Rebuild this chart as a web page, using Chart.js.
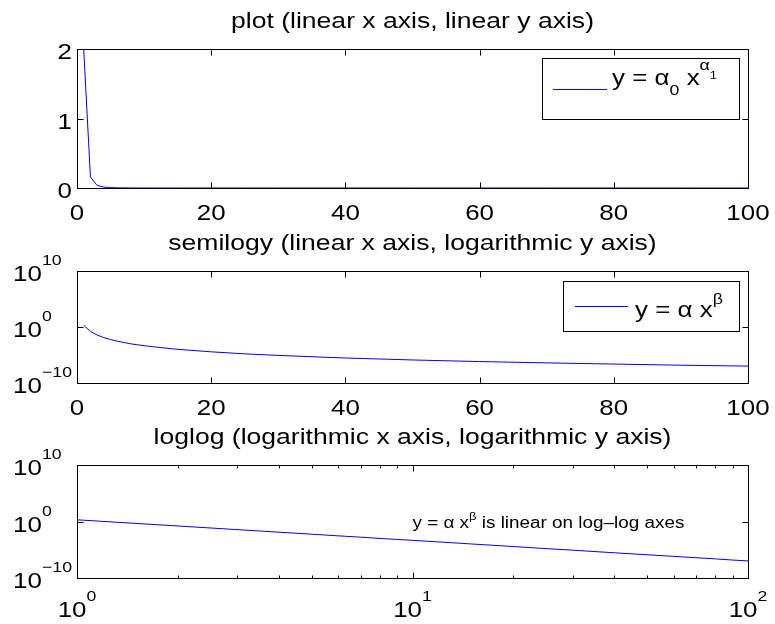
<!DOCTYPE html>
<html>
<head>
<meta charset="utf-8">
<title>plot / semilogy / loglog</title>
<script src="https://cdn.jsdelivr.net/npm/chart.js@4.4.1/dist/chart.umd.min.js"></script>
<style>
  body { margin: 0; background: #fff; }
  #wrap { position: relative; width: 775px; height: 624px; }
  #wrap canvas { position: absolute; left: 0; top: 0; }
</style>
</head>
<body>
<div id="wrap">
  <canvas id="plotLin" width="775" height="624"></canvas>
  <canvas id="plotSemi" width="775" height="624"></canvas>
  <canvas id="plotLog" width="775" height="624"></canvas>
</div>
<script>
// y = alpha * x^beta
const xValues = [1, 2, 3, 4, 5, 6, 7, 8, 9, 10, 12, 15, 20, 25, 30, 40, 50, 60, 70, 80, 90, 100];
const yValues = [2, 0.16, 0.0366, 0.0129, 0.0057, 0.0029, 0.0017, 0.001, 0.00067, 0.00046, 0.00024,
                 0.000105, 3.7e-5, 1.6e-5, 8.4e-6, 2.9e-6, 1.3e-6, 6.7e-7, 3.9e-7, 2.4e-7, 1.5e-7, 1.05e-7];

const linearXTicks = [0, 20, 40, 60, 80, 100];
const linearYTicks = [0, 1, 2];
const logYTicks = [1e-10, 1, 1e10];
const logXTicks = [1, 10, 100];
const logXMinorTicks = [2, 3, 4, 5, 6, 7, 8, 9, 20, 30, 40, 50, 60, 70, 80, 90];

const titles = [
  'plot (linear x axis, linear y axis)',
  'semilogy (linear x axis, logarithmic y axis)',
  'loglog (logarithmic x axis, logarithmic y axis)'
];

const FONT = '"Liberation Sans", Arial, Helvetica, sans-serif';
const SX = 1.18;          // la figura original esta estirada en horizontal
const BIG = 22, SMALL = 15, TITLE = 22.5;

function seg(t, size, dy) { return { t: t, size: size || BIG, dy: dy || 0 }; }

function richWidth(ctx, segs) {
  let w = 0;
  segs.forEach(s => { ctx.font = s.size + 'px ' + FONT; w += ctx.measureText(s.t).width * SX; });
  return w;
}

function drawRich(ctx, segs, x, y) {
  ctx.textAlign = 'left';
  ctx.textBaseline = 'alphabetic';
  segs.forEach(s => {
    ctx.font = s.size + 'px ' + FONT;
    const w = ctx.measureText(s.t).width * SX;
    ctx.save();
    ctx.translate(x, y + s.dy);
    ctx.scale(SX, 1);
    ctx.fillText(s.t, 0, 0);
    ctx.restore();
    x += w;
  });
}

function expLabel(v) {
  const e = Math.round(Math.log10(v));
  return [seg('10'), seg(String(e).replace('-', '\u2212'), SMALL, -16)];
}

function axesPlugin(spec) {
  return {
    id: 'matlabAxes',
    afterDraw(chart) {
      const ctx = chart.ctx, a = chart.chartArea;
      const xs = chart.scales.x, ys = chart.scales.y;
      const L = Math.round(a.left) + 0.5, R = Math.round(a.right) + 0.5;
      const T = Math.round(a.top) + 0.5, B = Math.round(a.bottom) + 0.5;
      ctx.save();
      ctx.strokeStyle = '#000';
      ctx.fillStyle = '#000';
      ctx.lineWidth = 1;

      // ticks hacia dentro, en los cuatro lados
      ctx.beginPath();
      const xTick = (v, len) => {
        const p = Math.round(xs.getPixelForValue(v)) + 0.5;
        ctx.moveTo(p, B); ctx.lineTo(p, B - len);
        ctx.moveTo(p, T); ctx.lineTo(p, T + len);
      };
      const yTick = (v, len) => {
        const p = Math.round(ys.getPixelForValue(v)) + 0.5;
        ctx.moveTo(L, p); ctx.lineTo(L + len, p);
        ctx.moveTo(R, p); ctx.lineTo(R - len, p);
      };
      spec.xTicks.forEach(v => xTick(v, 6));
      (spec.xMinor || []).forEach(v => xTick(v, 3));
      spec.yTicks.forEach(v => yTick(v, 6));
      ctx.stroke();
      ctx.strokeRect(L, T, R - L, B - T);

      // titulo
      const tSegs = [seg(spec.title, TITLE)];
      drawRich(ctx, tSegs, (a.left + a.right) / 2 - richWidth(ctx, tSegs) / 2, a.top - 21);

      // etiquetas del eje x
      spec.xTicks.forEach(v => {
        const p = xs.getPixelForValue(v);
        if (spec.xLog) {
          const s = expLabel(v);
          drawRich(ctx, s, p - richWidth(ctx, s) / 2, a.bottom + 39);
        } else {
          const s = [seg(String(v))];
          drawRich(ctx, s, p - richWidth(ctx, s) / 2, a.bottom + 32);
        }
      });

      // etiquetas del eje y
      spec.yTicks.forEach(v => {
        const p = ys.getPixelForValue(v);
        if (spec.yLog) {
          const s = expLabel(v);
          drawRich(ctx, s, a.left - 35 - richWidth(ctx, [s[0]]), p + 10);
        } else {
          const s = [seg(String(v))];
          drawRich(ctx, s, a.left - 5 - richWidth(ctx, s), p + 10);
        }
      });

      // leyenda
      if (spec.legend) {
        const lg = spec.legend;
        ctx.fillStyle = '#fff';
        ctx.fillRect(lg.box[0], lg.box[1], lg.box[2] - lg.box[0], lg.box[3] - lg.box[1]);
        ctx.strokeStyle = '#000';
        ctx.strokeRect(lg.box[0] + 0.5, lg.box[1] + 0.5, lg.box[2] - lg.box[0], lg.box[3] - lg.box[1]);
        ctx.beginPath();
        ctx.strokeStyle = '#0000ff';
        ctx.moveTo(lg.line[0], lg.line[2] + 0.5);
        ctx.lineTo(lg.line[1], lg.line[2] + 0.5);
        ctx.stroke();
        ctx.fillStyle = '#000';
        drawRich(ctx, lg.text, lg.textX, lg.baseline);
      }

      // texto dentro del loglog
      if (spec.note) {
        const n = spec.note;
        drawRich(ctx, n.text, xs.getPixelForValue(n.x), ys.getPixelForValue(n.y) + 6);
      }
      ctx.restore();
    }
  };
}

function makeChart(id, padding, xScale, yScale, spec) {
  const points = xValues.map((x, i) => ({ x: x, y: yValues[i] }));
  return new Chart(document.getElementById(id), {
    type: 'line',
    data: {
      datasets: [{
        data: points,
        borderColor: '#0000ff',
        borderWidth: 1,
        pointRadius: 0,
        tension: 0,
        fill: false
      }]
    },
    options: {
      responsive: false,
      animation: false,
      events: [],
      layout: { padding: padding },
      plugins: { legend: { display: false }, title: { display: false }, tooltip: { enabled: false } },
      scales: {
        x: Object.assign({ display: false }, xScale),
        y: Object.assign({ display: false }, yScale)
      }
    },
    plugins: [axesPlugin(spec)]
  });
}

// plot
makeChart('plotLin', { left: 77, top: 49, right: 27, bottom: 436 },
  { type: 'linear', min: 0, max: 100 },
  { type: 'linear', min: 0, max: 2 },
  {
    title: titles[0], xTicks: linearXTicks, yTicks: linearYTicks,
    legend: {
      box: [542, 58, 739, 119], line: [553, 607, 89], textX: 612, baseline: 85,
      text: [seg('y = \u03b1'), seg('0', SMALL, 10), seg(' x'), seg('\u03b1', SMALL, -15), seg('1', 11, -6)]
    }
  });

// semilogy
makeChart('plotSemi', { left: 77, top: 271, right: 27, bottom: 241 },
  { type: 'linear', min: 0, max: 100 },
  { type: 'logarithmic', min: 1e-10, max: 1e10 },
  {
    title: titles[1], xTicks: linearXTicks, yTicks: logYTicks, yLog: true,
    legend: {
      box: [563, 281, 739, 331], line: [575, 628, 306], textX: 635, baseline: 317,
      text: [seg('y = \u03b1 x'), seg('\u03b2', SMALL, -13)]
    }
  });

// loglog
makeChart('plotLog', { left: 77, top: 465, right: 27, bottom: 46 },
  { type: 'logarithmic', min: 1, max: 100 },
  { type: 'logarithmic', min: 1e-10, max: 1e10 },
  {
    title: titles[2], xTicks: logXTicks, xMinor: logXMinorTicks, yTicks: logYTicks, xLog: true, yLog: true,
    note: { x: 10, y: 1, text: [seg('y = \u03b1 x', 16), seg('\u03b2', 11, -8), seg(' is linear on log\u2013log axes', 16)] }
  });
</script>
</body>
</html>
